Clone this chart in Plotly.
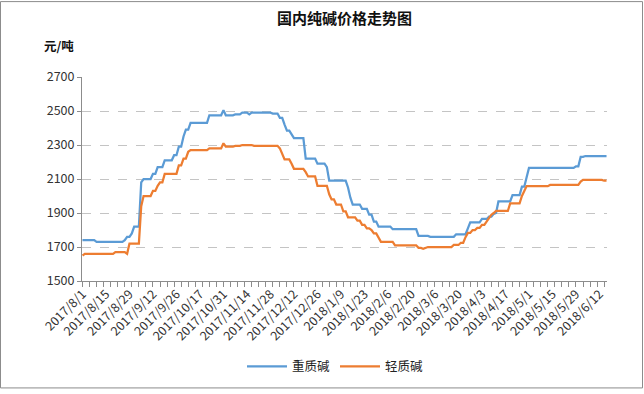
import plotly.graph_objects as go

tick_labels = ["2017/8/1", "2017/8/15", "2017/8/29", "2017/9/12", "2017/9/26", "2017/10/17",
               "2017/10/31", "2017/11/14", "2017/11/28", "2017/12/12", "2017/12/26", "2018/1/9",
               "2018/1/23", "2018/2/6", "2018/2/20", "2018/3/6", "2018/3/20", "2018/4/3",
               "2018/4/17", "2018/5/1", "2018/5/15", "2018/5/29", "2018/6/12"]

heavy = [
    1740, 1740, 1740, 1740, 1740, 1740, 1730, 1730, 1730, 1730,
    1730, 1730, 1730, 1730, 1730, 1730, 1730, 1730, 1740, 1760,
    1760, 1780, 1820, 1820, 1820, 2080, 2100, 2100, 2100, 2100,
    2130, 2130, 2170, 2170, 2170, 2210, 2210, 2210, 2210, 2240,
    2240, 2290, 2290, 2350, 2390, 2390, 2430, 2430, 2430, 2430,
    2430, 2430, 2430, 2430, 2475, 2475, 2475, 2475, 2475, 2475,
    2505, 2475, 2475, 2475, 2475, 2480, 2480, 2480, 2490, 2490,
    2490, 2480, 2490, 2490, 2490, 2490, 2490, 2490, 2490, 2490,
    2490, 2485, 2485, 2485, 2460, 2460, 2420, 2385, 2385, 2360,
    2340, 2340, 2340, 2340, 2340, 2220, 2220, 2220, 2220, 2220,
    2190, 2190, 2190, 2190, 2170, 2090, 2090, 2090, 2090, 2090,
    2090, 2090, 2090, 2050, 1990, 1950, 1950, 1950, 1950, 1925,
    1925, 1925, 1890, 1890, 1850, 1850, 1820, 1820, 1820, 1820,
    1820, 1820, 1805, 1805, 1805, 1805, 1805, 1805, 1805, 1805,
    1805, 1805, 1805, 1765, 1765, 1765, 1765, 1765, 1760, 1760,
    1760, 1760, 1760, 1760, 1760, 1760, 1760, 1760, 1760, 1775,
    1775, 1775, 1775, 1775, 1810, 1845, 1845, 1845, 1845, 1845,
    1865, 1865, 1865, 1878, 1878, 1895, 1900, 1968, 1968, 1968,
    1968, 1968, 1968, 2005, 2005, 2005, 2005, 2055, 2055, 2110,
    2165, 2165, 2165, 2165, 2165, 2165, 2165, 2165, 2165, 2165,
    2165, 2165, 2165, 2165, 2165, 2165, 2165, 2165, 2165, 2165,
    2175, 2175, 2230, 2230, 2235, 2235, 2235, 2235, 2235, 2235,
    2235, 2235, 2235, 2235,
]

light = [
    1650, 1660, 1660, 1660, 1660, 1660, 1660, 1660, 1660, 1660,
    1660, 1660, 1660, 1660, 1670, 1670, 1670, 1670, 1670, 1660,
    1720, 1720, 1720, 1720, 1720, 1940, 2000, 2000, 2000, 2000,
    2030, 2030, 2060, 2080, 2080, 2130, 2130, 2130, 2130, 2130,
    2130, 2180, 2180, 2220, 2220, 2260, 2270, 2270, 2270, 2270,
    2270, 2270, 2270, 2270, 2280, 2280, 2280, 2280, 2280, 2280,
    2310, 2290, 2290, 2290, 2290, 2295, 2295, 2295, 2300, 2300,
    2300, 2300, 2300, 2295, 2295, 2295, 2295, 2295, 2295, 2295,
    2295, 2295, 2295, 2295, 2280, 2250, 2215, 2215, 2215, 2190,
    2160, 2160, 2160, 2160, 2160, 2140, 2115, 2115, 2115, 2115,
    2060, 2060, 2060, 2060, 2060, 2010, 1980, 1980, 1950, 1950,
    1950, 1910, 1910, 1875, 1875, 1875, 1875, 1855, 1855, 1830,
    1830, 1810, 1810, 1800, 1780, 1780, 1750, 1730, 1730, 1730,
    1730, 1730, 1730, 1710, 1710, 1710, 1710, 1710, 1710, 1710,
    1710, 1710, 1710, 1695, 1695, 1690, 1695, 1700, 1700, 1700,
    1700, 1700, 1700, 1700, 1700, 1700, 1700, 1700, 1712, 1712,
    1712, 1725, 1725, 1758, 1783, 1783, 1800, 1800, 1812, 1812,
    1830, 1830, 1850, 1865, 1890, 1900, 1912, 1912, 1912, 1912,
    1912, 1912, 1957, 1957, 1957, 1957, 1957, 2000, 2030, 2058,
    2058, 2058, 2058, 2058, 2058, 2058, 2058, 2058, 2058, 2065,
    2065, 2065, 2065, 2065, 2065, 2065, 2065, 2065, 2065, 2065,
    2065, 2065, 2085, 2095, 2095, 2095, 2095, 2095, 2095, 2095,
    2095, 2095, 2090, 2090,
]

series_names = ["重质碱", "轻质碱"]
label_step = 10

x_idx = list(range(len(heavy)))
tick_pos = [i * label_step for i in range(len(tick_labels))]

FONT = "Noto Sans CJK SC, Microsoft YaHei, sans-serif"

fig = go.Figure()
fig.add_trace(go.Scatter(x=x_idx, y=heavy, mode="lines", name=series_names[0],
                         line=dict(color="#5B9BD5", width=2.25)))
fig.add_trace(go.Scatter(x=x_idx, y=light, mode="lines", name=series_names[1],
                         line=dict(color="#ED7D31", width=2.25)))

L, R, T, B = 82, 37, 77, 110
W, H = 644, 394
pw, ph = W - L - R, H - T - B

fig.update_layout(
    width=W, height=H,
    margin=dict(l=L, r=R, t=T, b=B),
    paper_bgcolor="white", plot_bgcolor="white",
    font=dict(family=FONT, size=11, color="#333333"),
    title=dict(text="<b>国内纯碱价格走势图</b>", x=0.5, xref="paper", xanchor="center",
               y=1 - 19 / H, yref="container", yanchor="middle",
               font=dict(family=FONT, size=15, color="#111111")),
    showlegend=True,
    legend=dict(orientation="h", x=(335 - L) / pw, xanchor="center",
                y=(H - B - 371) / ph, yanchor="middle",
                font=dict(family=FONT, size=12.5, color="#222222"),
                itemwidth=40, tracegroupgap=0, bgcolor="rgba(0,0,0,0)"),
    xaxis=dict(range=[-0.2, len(heavy) - 0.8], tickmode="array", tickvals=tick_pos,
               ticktext=tick_labels, tickangle=-45, ticks="", showgrid=False,
               zeroline=False, showline=True, linecolor="#8c8c8c", linewidth=1,
               tickfont=dict(family=FONT, size=12.5, color="#333333"),
               minor=dict(tick0=0, dtick=3, ticks="outside", ticklen=5,
                          tickcolor="#8c8c8c", showgrid=False)),
    yaxis=dict(range=[1500, 2700], dtick=200, tick0=1500, showgrid=True,
               gridcolor="#c4c4c4", griddash="dash", gridwidth=1, zeroline=False,
               showline=True, linecolor="#8c8c8c", linewidth=1,
               ticks="outside", ticklen=4, tickcolor="#8c8c8c",
               tickfont=dict(family=FONT, size=12.5, color="#333333")),
    annotations=[dict(text="<b>元/吨</b>", xref="paper", yref="paper",
                      x=(42 - L) / pw, y=(H - B - 45) / ph, xanchor="left", yanchor="middle",
                      showarrow=False, font=dict(family=FONT, size=12.5, color="#111111"))],
    shapes=[dict(type="rect", xref="paper", yref="paper",
                 x0=(0.5 - L) / pw, x1=(W - 1.5 - L) / pw,
                 y0=(H - B - (H - 1.5)) / ph, y1=(H - B - 0.5) / ph,
                 line=dict(color="#8c8c8c", width=1), fillcolor="rgba(0,0,0,0)",
                 layer="below")],
)

fig.write_html("out.html")
